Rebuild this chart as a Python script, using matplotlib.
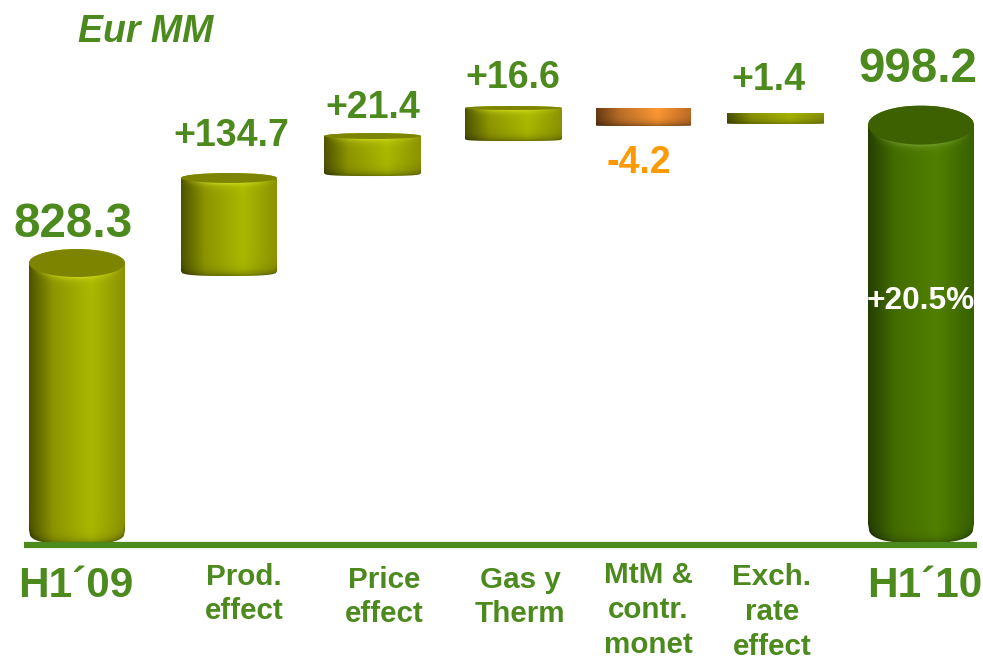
import matplotlib
matplotlib.use('Agg')
import matplotlib.pyplot as plt
import numpy as np
from matplotlib.colors import to_rgb
from matplotlib.patches import Ellipse, Polygon

plt.rcParams['font.family'] = ['Liberation Sans', 'DejaVu Sans']

labels = ["H1´09", "Prod.\neffect", "Price\neffect", "Gas y\nTherm", "MtM &\ncontr.\nmonet", "Exch.\nrate\neffect", "H1´10"]
value_text = ["828.3", "+134.7", "+21.4", "+16.6", "-4.2", "+1.4", "998.2"]
# bar ends as drawn, the steps are not really to scale in the original
bar_bottom = [482.2, 812.3, 935.4, 978.5, 997.0, 999.5, 483.5]
bar_top = [828.3, 933.0, 984.7, 1019.2, 1019.2, 1013.0, 998.2]

# layout, pixels
bar_left = [29, 181, 324, 465, 596, 727, 868]
bar_right = [125, 277, 421, 562, 691, 824, 974]
cap_h = [14, 5, 3, 2, 0.5, 0.5, 19.5]
kinds = ['olive', 'olive', 'olive', 'olive', 'orange', 'olive', 'green']
value_xy = [(73, 224), (231, 136), (373, 108), (513, 78), (639, 163), (768, 80), (918, 69)]
value_size = [34.3, 27, 27, 27, 27, 27, 34.3]
label_xy = [(76, 586), (244, 594), (384, 597), (520, 597), (648, 610), (772, 612), (925, 586)]
label_size = [30.5, 21.3, 21.3, 21.3, 21.3, 21.3, 30.5]

green = '#4c8a1e'
orange = '#ff9900'
colors = {
    'olive': (['#4d5300', '#8c9500', '#aab800', '#8a9300'], '#7d8500', '#d5e020'),
    'green': (['#253f00', '#436c00', '#508000', '#386000'], '#3d6000', '#76a030'),
    'orange': (['#6a3a14', '#bd6f28', '#ff9933', '#c06c25'], '#bd6f28', '#ffb060'),
}
stops = [0, 0.25, 0.65, 1]

ymin, ymax = 340.6, 1152.2
W, H = 983, 659
units_per_px = (ymax - ymin) / H

fig = plt.figure(figsize=(9.83, 6.59), dpi=100)
ax = fig.add_axes([0, 0, 1, 1])
ax.set_xlim(0, W)
ax.set_ylim(ymin, ymax)
ax.axis('off')


def bottom_curve(u, hh):
    # squarer than an ellipse, the originals have rounded corners
    return hh * (1 - np.abs(u) ** 3) ** (1 / 3)


for i in range(len(labels)):
    x0, x1 = bar_left[i], bar_right[i]
    top, bot = bar_top[i], bar_bottom[i]
    hh = cap_h[i]
    grad, cap_col, rim = colors[kinds[i]]
    cx = (x0 + x1) / 2

    # body picture, worked out per pixel
    height_px = (top - bot) / units_per_px
    ny = int(height_px + hh) + 2
    nx = int(x1 - x0) + 1
    xs = np.linspace(0, 1, nx)
    py = np.arange(ny) - hh  # pixels below the cap centre
    u = xs * 2 - 1
    img = np.zeros((ny, nx, 3))
    for c in range(3):
        img[:, :, c] = np.interp(xs, stops, [to_rgb(g)[c] for g in grad])
    front = hh * np.sqrt(1 - u ** 2)
    U, P = np.meshgrid(u, py)
    F = np.tile(front, (ny, 1))
    # distance from the underside, which sits lower in the middle of the bar
    B = np.tile(height_px - hh + bottom_curve(u, hh), (ny, 1))
    dark = 1 - 0.4 * np.exp(-np.clip(B - P, 0, None) / 4)
    img = img * dark[:, :, None]
    glow = 0.7 * np.exp(-np.clip(P - F, 0, None) / 3) * (1 - U ** 2) * (hh > 1)
    img = img * (1 - glow[:, :, None]) + np.array(to_rgb(rim)) * glow[:, :, None]
    im = ax.imshow(img, extent=(x0, x1, top - (ny - hh) * units_per_px, top + hh * units_per_px),
                   origin='upper', aspect='auto', zorder=2, interpolation='bilinear')

    # outline of the body, straight sides and a curved underside
    uu = np.linspace(-1, 1, 80)
    under = bot + (hh - bottom_curve(uu, hh)) * units_per_px
    outline = [(x0, top)] + list(zip(cx + uu * (x1 - x0) / 2, under)) + [(x1, top)]
    if hh > 1:
        outline += list(zip(cx - uu * (x1 - x0) / 2, top + hh * np.sqrt(1 - uu ** 2) * units_per_px))
    clip = Polygon(outline, closed=True, transform=ax.transData, fc='none', ec='none')
    ax.add_patch(clip)
    im.set_clip_path(clip)

    if hh > 1:
        ax.add_patch(Ellipse((cx, top), x1 - x0, 2 * hh * units_per_px, fc=cap_col, ec='none', zorder=3))

# reset after imshow
ax.set_xlim(0, W)
ax.set_ylim(ymin, ymax)

ax.plot([24, 977], [481, 481], color=green, lw=4.5, solid_capstyle='butt', zorder=4)


def put(x, y, s, **kw):
    fig.text(x / W, 1 - y / H, s, ha='center', va='center', **kw)


put(146, 32, 'Eur MM', color=green, fontsize=27, fontweight='bold', fontstyle='italic')
for i in range(len(labels)):
    col = orange if value_text[i].startswith('-') else green
    put(value_xy[i][0], value_xy[i][1], value_text[i], color=col, fontsize=value_size[i], fontweight='bold')
    put(label_xy[i][0], label_xy[i][1], labels[i], color=green, fontsize=label_size[i], fontweight='bold', linespacing=1.3)
put(921, 301, '+20.5%', color='white', fontsize=22.8, fontweight='bold', zorder=6)

fig.savefig('out.png', dpi=100)
